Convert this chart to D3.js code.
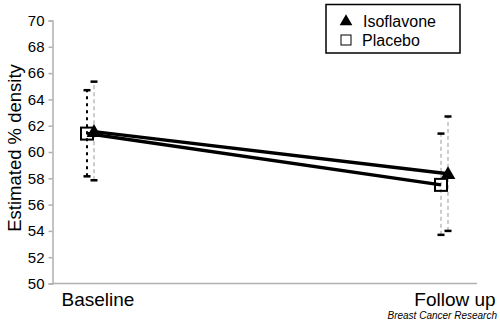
<!DOCTYPE html>
<html lang="en">
<head>
  <meta charset="utf-8" />
  <title>Estimated % density</title>
  <script src="https://d3js.org/d3.v7.min.js"></script>
  <style>
    body { margin: 0; background: #fff; }
    text { font-family: "Liberation Sans", Arial, sans-serif; }
  </style>
</head>
<body>
  <div id="chart"></div>
  <script>
    // data
    var visits = ["Baseline", "Follow up"];
    var isoMean = [61.55, 58.35];
    var isoLow = [57.85, 54.0];
    var isoHigh = [65.35, 62.7];
    var plaMean = [61.4, 57.5];
    var plaLow = [58.15, 53.7];
    var plaHigh = [64.7, 61.4];
    var yTicks = [50, 52, 54, 56, 58, 60, 62, 64, 66, 68, 70];

    var svg = d3.select("#chart")
                .append("svg")
                .attr("width", 500)
                .attr("height", 325);

    var x = d3.scalePoint()
              .domain(visits)
              .range([90.5, 444.5]);
    var y = d3.scaleLinear()
              .domain([50, 70])
              .range([283.5, 20.5]);

    // axes (gray)
    var yAxis = svg.append("g")
       .attr("transform", "translate(52.5,0)")
       .call(d3.axisLeft(y).tickValues(yTicks).tickSize(4).tickPadding(4));
    yAxis.select(".domain").attr("stroke", "#b0b0b0").attr("stroke-width", 1.5);
    yAxis.selectAll(".tick line").attr("stroke", "#b0b0b0").attr("stroke-width", 1.5);
    yAxis.selectAll(".tick text")
         .attr("font-size", 15)
         .attr("fill", "#000")
         .style("font-family", "Liberation Sans, Arial, sans-serif");

    svg.append("line")
       .attr("x1", 52).attr("x2", 477)
       .attr("y1", y(50)).attr("y2", y(50))
       .attr("stroke", "#b0b0b0").attr("stroke-width", 1.5);

    // x labels
    svg.selectAll(".xlab")
       .data(visits)
       .enter()
       .append("text")
       .attr("class", "xlab")
       .attr("x", function(d, i) { return x(d) + (i === 0 ? 7.5 : 10.5); })
       .attr("y", 305.5)
       .attr("text-anchor", "middle")
       .attr("font-size", 19)
       .text(function(d) { return d; });

    // y title
    svg.append("text")
       .attr("transform", "translate(21,148) rotate(-90)")
       .attr("text-anchor", "middle")
       .attr("font-size", 18.5)
       .text("Estimated % density");

    // error bars
    function errorBars(lo, hi, dx, color, dash, width) {
      svg.selectAll(null)
         .data(visits)
         .enter()
         .append("line")
         .attr("x1", function(d) { return x(d) + dx; })
         .attr("x2", function(d) { return x(d) + dx; })
         .attr("y1", function(d, i) { return y(lo[i]); })
         .attr("y2", function(d, i) { return y(hi[i]); })
         .attr("stroke", function(d, i) { return color[i]; })
         .attr("stroke-width", function(d, i) { return width[i]; })
         .attr("stroke-dasharray", function(d, i) { return dash[i]; });
      [lo, hi].forEach(function(arr) {
        svg.selectAll(null)
           .data(visits)
           .enter()
           .append("line")
           .attr("x1", function(d) { return x(d) + dx - 3.5; })
           .attr("x2", function(d) { return x(d) + dx + 3.5; })
           .attr("y1", function(d, i) { return y(arr[i]); })
           .attr("y2", function(d, i) { return y(arr[i]); })
           .attr("stroke", "#000")
           .attr("stroke-width", 2.5);
      });
    }
    errorBars(plaLow, plaHigh, -3.5, ["#000", "#999"], ["3,4", "4,3"], [2, 1]);
    errorBars(isoLow, isoHigh, 3.5, ["#999", "#999"], ["4,3", "4,3"], [1, 1]);

    // lines
    var line = d3.line();
    svg.append("path")
       .attr("d", line(visits.map(function(d, i) { return [x(d) - 3.5, y(plaMean[i])]; })))
       .attr("fill", "none")
       .attr("stroke", "#000")
       .attr("stroke-width", 3.5);
    svg.append("path")
       .attr("d", line(visits.map(function(d, i) { return [x(d) + 3.5, y(isoMean[i])]; })))
       .attr("fill", "none")
       .attr("stroke", "#000")
       .attr("stroke-width", 3.5);

    // markers
    svg.selectAll(".sq")
       .data(visits)
       .enter()
       .append("rect")
       .attr("x", function(d) { return x(d) - 3.5 - 6; })
       .attr("y", function(d, i) { return y(plaMean[i]) - 6; })
       .attr("width", 12)
       .attr("height", 12)
       .attr("fill", "none")
       .attr("stroke", "#000")
       .attr("stroke-width", 2);

    var tri = d3.symbol().type(d3.symbolTriangle).size(95);
    svg.selectAll(".tri")
       .data(visits)
       .enter()
       .append("path")
       .attr("d", tri)
       .attr("transform", function(d, i) {
         return "translate(" + (x(d) + 3.5) + "," + (y(isoMean[i]) + 1) + ")";
       })
       .attr("fill", "#000");

    // legend
    var leg = svg.append("g");
    leg.append("rect")
       .attr("x", 326).attr("y", 4.5)
       .attr("width", 134).attr("height", 48.5)
       .attr("fill", "#fff").attr("stroke", "#000").attr("stroke-width", 1.5);
    leg.append("path")
       .attr("d", d3.symbol().type(d3.symbolTriangle).size(70))
       .attr("transform", "translate(346,21.5)")
       .attr("fill", "#000");
    leg.append("rect")
       .attr("x", 341).attr("y", 35)
       .attr("width", 10).attr("height", 10)
       .attr("fill", "#fff").attr("stroke", "#000").attr("stroke-width", 1);
    leg.append("text").attr("x", 363).attr("y", 27).attr("font-size", 16).text("Isoflavone");
    leg.append("text").attr("x", 362).attr("y", 46).attr("font-size", 16).text("Placebo");

    // source
    svg.append("text")
       .attr("x", 497).attr("y", 319)
       .attr("text-anchor", "end")
       .attr("font-size", 10)
       .attr("font-style", "italic")
       .text("Breast Cancer Research");
  </script>
</body>
</html>
